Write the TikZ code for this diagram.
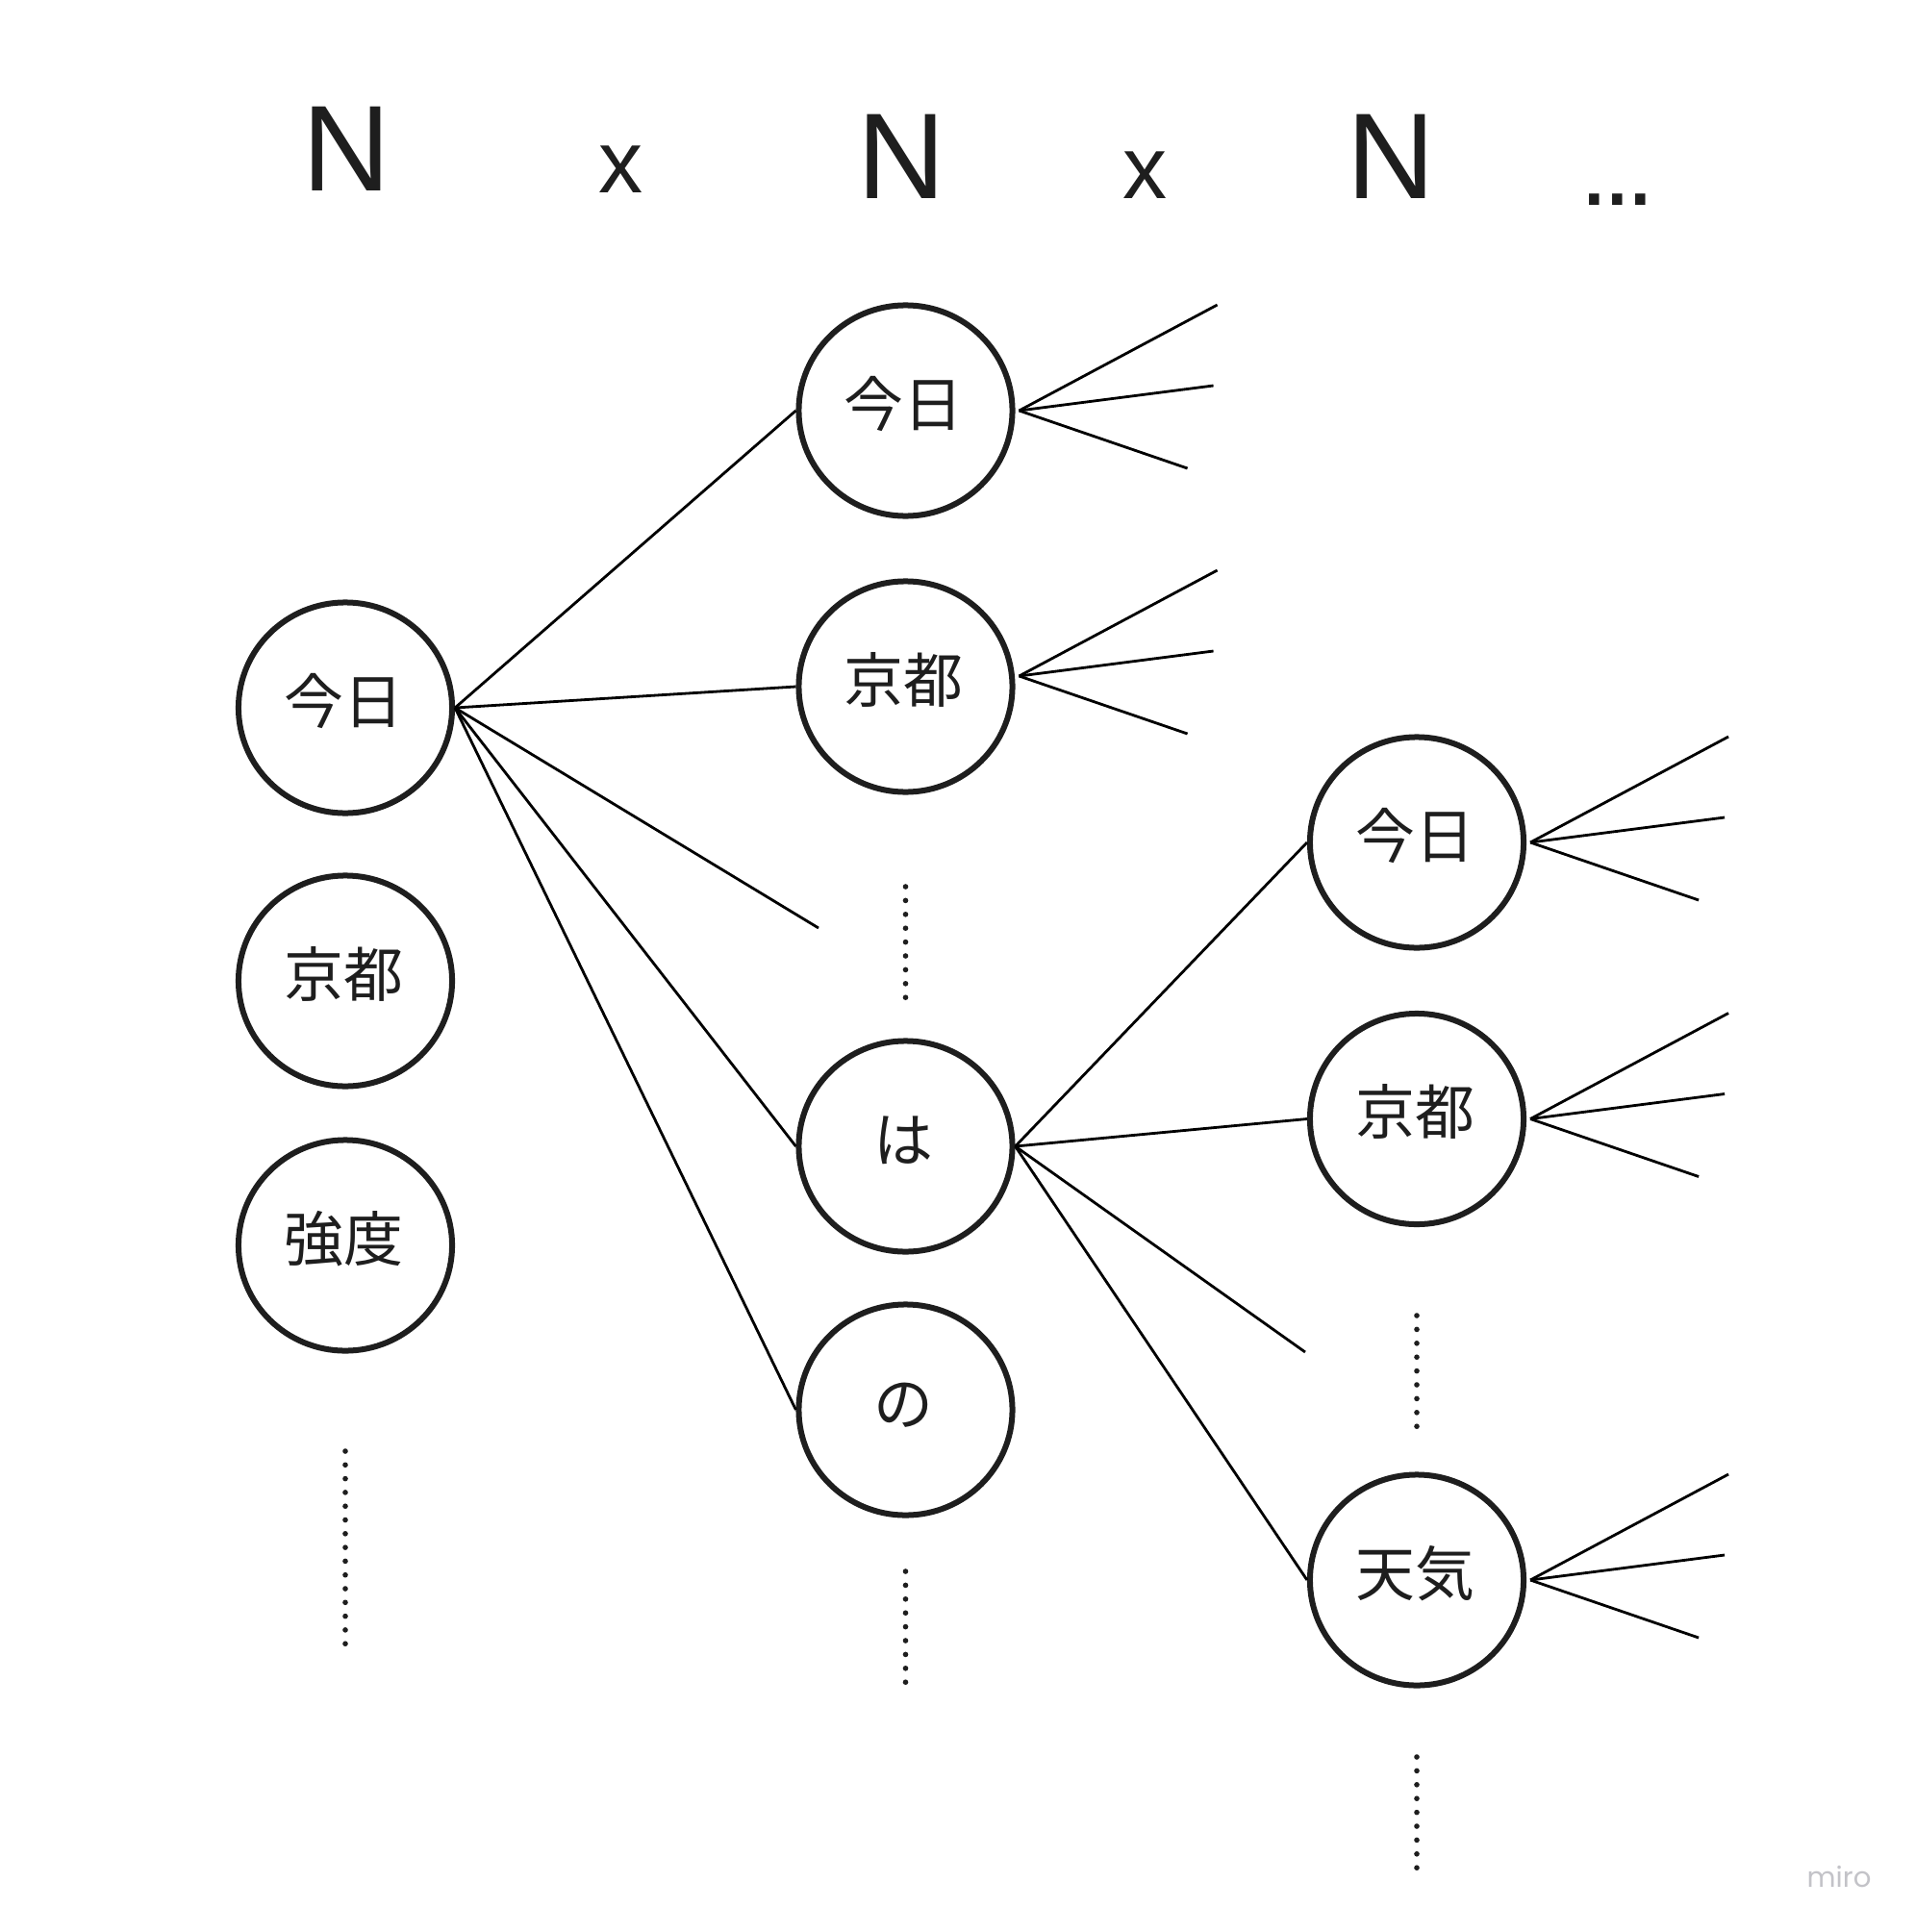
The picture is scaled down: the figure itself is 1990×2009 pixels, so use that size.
\documentclass[tikz,border=0pt]{standalone}
\usepackage{fontspec}
\setmainfont{Liberation Sans}
\newfontfamily\cjk{Noto Sans CJK JP}
\newfontfamily\mirofont{Poppins}
\usetikzlibrary{shapes.geometric,calc}
\definecolor{ink}{RGB}{30,30,30}
\definecolor{wm}{RGB}{195,195,200}
\begin{document}
\begin{tikzpicture}[x=0.01cm,y=-0.01cm,
  circ/.style={ellipse, draw=ink, line width=0.06cm, minimum width=2.22cm, minimum height=2.19cm, inner sep=0pt},
  lbl/.style={anchor=base, inner sep=0pt, text=ink, font=\cjk\fontsize{17.6pt}{17.6pt}\selectfont},
  conn/.style={draw=black, line width=0.028cm},
  head/.style={anchor=base, inner sep=0pt, text=ink, font=\fontsize{36.1pt}{36.1pt}\selectfont},
  times/.style={anchor=base, inner sep=0pt, text=ink, font=\fontsize{26.2pt}{26.2pt}\selectfont},
  ell/.style={anchor=base, inner sep=0pt, text=ink, font=\fontsize{31.3pt}{31.3pt}\selectfont},
  wmark/.style={anchor=base, inner sep=0pt, text=wm, font=\mirofont\fontsize{8.3pt}{8.3pt}\selectfont}
]
\fill[white] (0,0) rectangle (1990,2009);
\useasboundingbox (0,0) rectangle (1990,2009);

% header
\node[head] (h1) at (360,199) {N};
\node[times] (h2) at (646,201) {x};
\node[head] (h3) at (937,207) {N};
\node[times] (h4) at (1191,206) {x};
\node[head] (h5) at (1446,207) {N};
\node[ell] (h6) at (1682,214) {.\kern-1.88pt.\kern-1.88pt.};

% circles
\node[circ] (a1) at (359,736) {};
\node[circ] (a2) at (359,1020) {};
\node[circ] (a3) at (359,1295) {};
\node[circ] (b1) at (941.5,427) {};
\node[circ] (b2) at (941.5,714) {};
\node[circ] (b3) at (941.5,1192) {};
\node[circ] (b4) at (941.5,1466) {};
\node[circ] (c1) at (1473,876) {};
\node[circ] (c2) at (1473,1163.5) {};
\node[circ] (c3) at (1473,1643) {};

% labels
\node[lbl] (ta1) at ($(a1)+(-2,16)$) {今日};
\node[lbl] (ta2) at ($(a2)+(-2,16)$) {京都};
\node[lbl] (ta3) at ($(a3)+(-2,16)$) {強度};
\node[lbl] (tb1) at ($(b1)+(-2,16)$) {今日};
\node[lbl] (tb2) at ($(b2)+(-2,16)$) {京都};
\node[lbl] (tb3) at ($(b3)+(-2,16)$) {は};
\node[lbl] (tb4) at ($(b4)+(-2,16)$) {の};
\node[lbl] (tc1) at ($(c1)+(-2,16)$) {今日};
\node[lbl] (tc2) at ($(c2)+(-2,16)$) {京都};
\node[lbl] (tc3) at ($(c3)+(-2,16)$) {天気};

% connectors column 1 -> column 2
\coordinate (fa) at (851,965);
\draw[conn] (a1.east) -- (b1.west);
\draw[conn] (a1.east) -- (b2.west);
\draw[conn] (a1.east) -- (fa);
\draw[conn] (a1.east) -- (b3.west);
\draw[conn] (a1.east) -- (b4.west);

% connectors column 2 -> column 3
\coordinate (fb) at (1357,1406);
\draw[conn] (b3.east) -- (c1.west);
\draw[conn] (b3.east) -- (c2.west);
\draw[conn] (b3.east) -- (fb);
\draw[conn] (b3.east) -- (c3.west);

% fans
\coordinate (b1f) at ($(b1.east)+(4,0)$);
\coordinate (b2f) at ($(b2.east)+(4,-11)$);
\coordinate (c1f) at ($(c1.east)+(4,0)$);
\coordinate (c2f) at ($(c2.east)+(4,0)$);
\coordinate (c3f) at ($(c3.east)+(4,0)$);
\foreach \n in {b1f,b2f,c1f,c2f,c3f}{
  \coordinate (\n-u) at ($(\n)+(206,-110)$);
  \coordinate (\n-m) at ($(\n)+(202,-26)$);
  \coordinate (\n-d) at ($(\n)+(175,60)$);
  \draw[conn] (\n) -- (\n-u);
  \draw[conn] (\n) -- (\n-m);
  \draw[conn] (\n) -- (\n-d);
}

% dotted continuations
\foreach \i in {0,...,14} \fill[ink] (359,{1509+14.3*\i}) circle[radius=0.028cm];
\foreach \i in {0,...,8} \fill[ink] (941.5,{922+14.4*\i}) circle[radius=0.028cm];
\foreach \i in {0,...,8} \fill[ink] (941.5,{1634+14.4*\i}) circle[radius=0.028cm];
\foreach \i in {0,...,8} \fill[ink] (1473,{1368+14.4*\i}) circle[radius=0.028cm];
\foreach \i in {0,...,8} \fill[ink] (1473,{1827+14.4*\i}) circle[radius=0.028cm];

% watermark
\node[wmark] (wmk) at (1912,1962) {miro};
\end{tikzpicture}
\end{document}
